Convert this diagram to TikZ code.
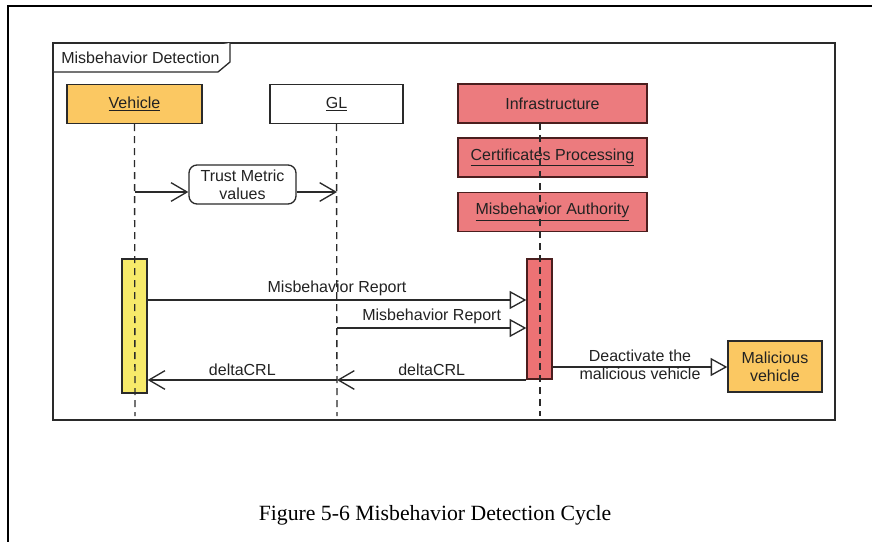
\documentclass[tikz,border=0pt]{standalone}
\usepackage{fontspec}
\setmainfont{Liberation Sans}
\newfontfamily\capfont{Liberation Serif}
\usetikzlibrary{arrows.meta}
\definecolor{vehc}{HTML}{FBC862}
\definecolor{infc}{HTML}{EC7B7E}
\definecolor{actyel}{HTML}{F7EA6A}
\definecolor{actred}{HTML}{EC7274}
\definecolor{infdraw}{HTML}{4A1E1E}
\definecolor{linec}{HTML}{2A2A2A}
\definecolor{txtc}{HTML}{222222}
\begin{document}
\begin{tikzpicture}[x=0.75pt,y=-0.75pt,
  font=\fontsize{12}{13.5}\selectfont,
  headbox/.style={draw=linec, line width=1pt, minimum height=29.25pt, inner sep=0pt, text=txtc},
  infbox/.style={headbox, draw=infdraw, fill=infc, minimum width=141.75pt},
  actbox/.style={draw=linec, line width=1pt, minimum width=18.75pt, inner sep=0pt},
  lifeline/.style={draw=linec, line width=1pt, dash pattern=on 5.25pt off 3.75pt},
  msg/.style={draw=linec, line width=1pt},
  openv/.style={msg, -{Straight Barb[length=12pt, width=14pt, line width=1pt]}},
  opentri/.style={msg, -{Triangle[open, fill=white, length=12.5pt, width=13.5pt, line width=1pt]}},
  lbl/.style={text=txtc, inner sep=0pt, above, yshift=2.5pt}]
\useasboundingbox (0,0) rectangle (872,542);
% outer border
\draw[line width=1.5pt, black] (872,6) -- (8,6) -- (8,542);
% frame
\draw[linec, line width=1pt] (53,43) rectangle (835,420);
\draw[linec, line width=1pt, fill=white] (53,72) -- (218,72) -- (230,62) -- (230,43);
\node[text=txtc, inner sep=0pt] (tabtxt) at (140.5,58) {Misbehavior Detection};
% heads
\node[headbox, fill=vehc, minimum width=101.25pt] (veh) at (134.5,104) {\underline{Vehicle}};
\node[headbox, fill=white, minimum width=99.75pt] (gl) at (336.5,104) {\underline{GL}};
\node[infbox] (inf) at (552.5,103.5) {Infrastructure};
\node[infbox] (cert) at (552.5,157.5) {\underline{Certificates Processing}};
\node[infbox] (ma) at (552.5,212) {\underline{Misbehavior Authority}};
% activations
\node[actbox, fill=actyel, minimum height=100.5pt] (vact) at (134.5,326) {};
\node[actbox, fill=actred, draw=infdraw, minimum height=90pt] (iact) at (539.5,319) {};
% lifelines
\coordinate (vbot) at (135,416);
\coordinate (gbot) at (337,416);
\coordinate (itop) at (540,123);
\coordinate (ibot) at (540,416);
\draw[lifeline] (veh.south) -- (vbot);
\draw[lifeline] (gl.south) -- (gbot);
\draw[lifeline] (itop) -- (ibot);
% trust metric
\node[draw=linec, line width=1pt, rounded corners=6pt, minimum width=80.25pt, minimum height=29.25pt, inner sep=0pt, align=center, text=txtc, fill=white] (tm) at (242.5,184.5) {Trust Metric\\values};
\coordinate (v1) at (135,192);
\coordinate (g1) at (337,192);
\draw[openv] (v1) -- (tm.west |- v1);
\draw[openv] (tm.east |- v1) -- (g1);
% messages
\coordinate (y1) at (0,300);
\coordinate (g2) at (337,328);
\coordinate (y3) at (0,380);
\coordinate (g3) at (337,380);
\coordinate (y4) at (0,367);
\draw[opentri] (vact.east |- y1) -- node[lbl] (mr1) {Misbehavior Report} (iact.west |- y1);
\draw[opentri] (g2) -- node[lbl] (mr2) {Misbehavior Report} (iact.west |- g2);
\draw[openv] (iact.west |- y3) -- node[lbl] (dc2) {deltaCRL} (g3);
\draw[openv] (g3) -- node[lbl] (dc1) {deltaCRL} (vact.east |- y3);
\node[headbox, fill=vehc, minimum width=70.5pt, minimum height=38.25pt, align=center] (mv) at (775,366.5) {Malicious\\vehicle};
\draw[opentri] (iact.east |- y4) -- node[text=txtc, inner sep=0pt, align=center, yshift=1.5pt] (deact) {Deactivate the\\malicious vehicle} (mv.west |- y4);
% caption
\node[inner sep=0pt] (cap) at (435,515) {\capfont\fontsize{16.3}{19}\selectfont Figure 5-6 Misbehavior Detection Cycle};
\end{tikzpicture}
\end{document}
